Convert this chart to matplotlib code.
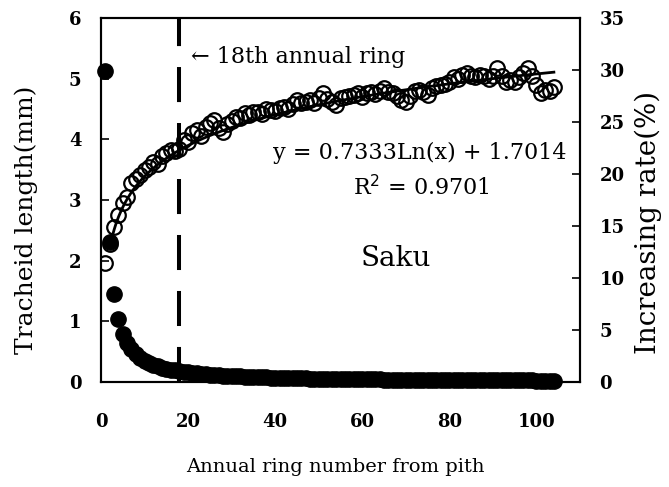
import matplotlib
matplotlib.use("Agg")
import matplotlib.pyplot as plt
import numpy as np

# ---- data ----
rings = list(range(1, 105))
tracheid_length = [
    1.96, 2.28, 2.55, 2.75, 2.95, 3.05, 3.28, 3.35, 3.42, 3.50,
    3.55, 3.62, 3.60, 3.72, 3.78, 3.82, 3.80, 3.84, 3.99, 3.95,
    4.10, 4.15, 4.05, 4.20, 4.27, 4.32, 4.18, 4.12, 4.25, 4.30,
    4.37, 4.35, 4.43, 4.40, 4.45, 4.45, 4.42, 4.50, 4.48, 4.46,
    4.52, 4.53, 4.50, 4.58, 4.65, 4.60, 4.62, 4.65, 4.60, 4.68,
    4.76, 4.66, 4.62, 4.57, 4.68, 4.70, 4.72, 4.73, 4.76, 4.70,
    4.76, 4.78, 4.75, 4.80, 4.85, 4.78, 4.76, 4.72, 4.65, 4.62,
    4.72, 4.80, 4.81, 4.78, 4.73, 4.85, 4.88, 4.90, 4.92, 4.95,
    5.03, 5.00, 5.06, 5.09, 5.05, 5.02, 5.06, 5.04, 5.00, 5.05,
    5.18, 5.05, 4.95, 4.97, 4.95, 5.03, 5.10, 5.18, 5.05, 4.90,
    4.76, 4.81, 4.80, 4.86,
]
increasing_rate = [
    29.9, 13.45, 8.42, 6.02, 4.64, 3.75, 3.13, 2.68, 2.33, 2.06,
    1.84, 1.67, 1.52, 1.39, 1.28, 1.19, 1.11, 1.04, 0.97, 0.92,
    0.87, 0.82, 0.78, 0.75, 0.71, 0.68, 0.65, 0.62, 0.60, 0.57,
    0.55, 0.53, 0.51, 0.50, 0.48, 0.47, 0.45, 0.44, 0.42, 0.41,
    0.40, 0.388, 0.378, 0.368, 0.359, 0.350, 0.341, 0.333, 0.325, 0.318,
    0.312, 0.305, 0.299, 0.292, 0.285, 0.280, 0.274, 0.269, 0.263, 0.258,
    0.254, 0.250, 0.246, 0.242, 0.235, 0.232, 0.228, 0.224, 0.220, 0.216,
    0.213, 0.210, 0.206, 0.203, 0.200, 0.197, 0.194, 0.191, 0.188, 0.185,
    0.183, 0.180, 0.178, 0.175, 0.173, 0.170, 0.168, 0.166, 0.163, 0.161,
    0.159, 0.157, 0.156, 0.154, 0.152, 0.150, 0.149, 0.147, 0.145, 0.144,
    0.142, 0.141, 0.139, 0.138,
]
fit_a = 0.7333
fit_b = 1.7014
marker_ring = 18
x_ticks = [0, 20, 40, 60, 80, 100]
y_left_ticks = [0, 1, 2, 3, 4, 5, 6]
y_right_ticks = [0, 5, 10, 15, 20, 25, 30, 35]

plt.rcParams['font.family'] = ['DejaVu Serif']

W, H = 669, 487
fig = plt.figure(figsize=(W/100, H/100), dpi=100)
ax = fig.add_axes([101/W, 1-382/H, (580-101)/W, (382-18)/H])
ax2 = ax.twinx()

# dashed marker line
ax.axvline(marker_ring, color='black', lw=2.9, dashes=(8.7, 5.2), zorder=1)

# trend line
xf = np.linspace(2, rings[-1], 300)
ax.plot(xf, fit_a*np.log(xf) + fit_b, color='black', lw=2.0, zorder=3)

# open circles
ax.plot(rings, tracheid_length, linestyle='none', marker='o', ms=10.5,
        mfc='none', mec='black', mew=1.6, zorder=4)

# filled circles (right axis)
ax2.plot(rings, increasing_rate, linestyle='none', marker='o', ms=11,
         mfc='black', mec='black', zorder=4, clip_on=False)

ax.set_xlim(0, 110)
ax.set_ylim(0, 6)
ax2.set_ylim(0, 35)
ax.set_xticks(x_ticks)
ax.set_yticks(y_left_ticks)
ax2.set_yticks(y_right_ticks)

for a in (ax, ax2):
    for s in a.spines.values():
        s.set_linewidth(1.5)
ax.tick_params(axis='y', direction='in', length=6, width=1.2, labelsize=13, pad=14)
ax.tick_params(axis='x', direction='in', length=0, labelsize=13, pad=22)
ax2.tick_params(axis='y', direction='in', length=6, width=1.2, labelsize=13, pad=14)
for lab in ax.get_xticklabels() + ax.get_yticklabels() + ax2.get_yticklabels():
    lab.set_fontweight('bold')

fig.text(335/W, 1-467/H, 'Annual ring number from pith', fontsize=14,
         ha='center', va='center')
fig.text(26/W, 1-220/H, 'Tracheid length(mm)', fontsize=18,
         ha='center', va='center', rotation=90)
fig.text(648/W, 1-222/H, 'Increasing rate(%)', fontsize=20,
         ha='center', va='center', rotation=90)

ax.text(20.7, 5.36, '\u2190 18th annual ring', fontsize=16, va='center', ha='left')
ax.text(107, 3.77, 'y = 0.7333Ln(x) + 1.7014', fontsize=16, va='center', ha='right')
ax.text(73.7, 3.21, 'R$^2$ = 0.9701', fontsize=16, va='center', ha='center')
ax.text(67.8, 2.03, 'Saku', fontsize=20, va='center', ha='center')

fig.savefig('out.png', dpi=100)
